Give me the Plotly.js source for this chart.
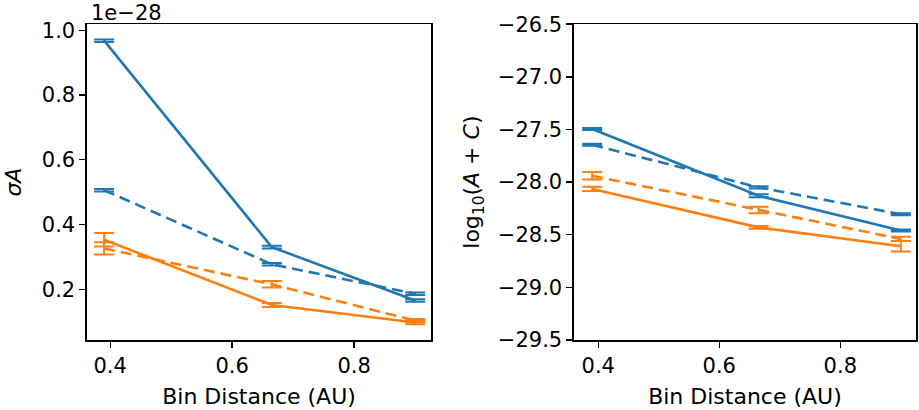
<!DOCTYPE html>
<html>
<head>
<meta charset="utf-8">
<script src="https://cdn.plot.ly/plotly-3.0.1.min.js"></script>
<style>
  html, body { margin: 0; padding: 0; background: #fff; }
  #chart { width: 919px; height: 410px; }
</style>
</head>
<body>
<div id="chart"></div>
<script>
// bin distances (AU)
const binDist = [0.39, 0.665, 0.9]

// left panel: sigma A (units of 1e-28)
const sigmaBlueSolid = [0.968, 0.330, 0.165]
const sigmaBlueSolidErr = [0.004, 0.004, 0.004]
const sigmaBlueDash = [0.506, 0.277, 0.186]
const sigmaBlueDashErr = [0.004, 0.004, 0.004]
const sigmaOrangeSolid = [0.353, 0.151, 0.097]
const sigmaOrangeSolidErr = [0.021, 0.006, 0.005]
const sigmaOrangeDash = [0.326, 0.215, 0.103]
const sigmaOrangeDashErr = [0.019, 0.010, 0.005]

// right panel: log10(A + C)
const logBlueSolid = [-27.495, -28.13, -28.46]
const logBlueSolidErr = [0.01, 0.015, 0.01]
const logBlueDash = [-27.645, -28.05, -28.305]
const logBlueDashErr = [0.01, 0.01, 0.01]
const logOrangeSolid = [-28.065, -28.43, -28.61]
const logOrangeSolidErr = [0.02, 0.012, 0.05]
const logOrangeDash = [-27.94, -28.265, -28.54]
const logOrangeDashErr = [0.035, 0.03, 0.02]

const BLUE = '#1f77b4'
const ORANGE = '#ff7f0e'

function trace(y, err, color, dash, xa, ya) {
    return {
        x: binDist,
        y,
        xaxis: xa,
        yaxis: ya,
        mode: 'lines',
        line: { color, width: 2.6, dash },
        error_y: { type: 'data', array: err, visible: true, color, thickness: 2, width: 10 },
        showlegend: false,
        hoverinfo: 'x+y'
    }
}

// matplotlib style dashes
const DASHED = '11px,6px'

const data = [
    trace(sigmaBlueSolid, sigmaBlueSolidErr, BLUE, 'solid', 'x', 'y'),
    trace(sigmaBlueDash, sigmaBlueDashErr, BLUE, DASHED, 'x', 'y'),
    trace(sigmaOrangeSolid, sigmaOrangeSolidErr, ORANGE, 'solid', 'x', 'y'),
    trace(sigmaOrangeDash, sigmaOrangeDashErr, ORANGE, DASHED, 'x', 'y'),
    trace(logBlueSolid, logBlueSolidErr, BLUE, 'solid', 'x2', 'y2'),
    trace(logBlueDash, logBlueDashErr, BLUE, DASHED, 'x2', 'y2'),
    trace(logOrangeSolid, logOrangeSolidErr, ORANGE, 'solid', 'x2', 'y2'),
    trace(logOrangeDash, logOrangeDashErr, ORANGE, DASHED, 'x2', 'y2')
]

// shared axis look (matplotlib-ish box)
const axisBase = {
    showgrid: false,
    zeroline: false,
    showline: true,
    mirror: true,
    linecolor: '#000',
    linewidth: 1.6,
    ticks: 'outside',
    ticklen: 6,
    tickwidth: 1.4,
    tickcolor: '#000',
    tickfont: { size: 21, color: '#000' }
}

const titleFont = { size: 22, color: '#000' }

const layout = {
    width: 919,
    height: 410,
    font: { family: 'DejaVu Sans, sans-serif', color: '#000' },
    margin: { l: 0, r: 0, t: 0, b: 0 },
    paper_bgcolor: '#fff',
    plot_bgcolor: '#fff',
    showlegend: false,
    xaxis: {
        ...axisBase,
        domain: [0.0947, 0.469],
        range: [0.362, 0.926],
        tickvals: [0.4, 0.6, 0.8],
        tickformat: '.1f',
        title: { text: 'Bin Distance (AU)', font: titleFont, standoff: 12 }
    },
    yaxis: {
        ...axisBase,
        anchor: 'x',
        domain: [0.1707, 0.941],
        range: [0.043, 1.019],
        tickvals: [0.2, 0.4, 0.6, 0.8, 1.0],
        tickformat: '.1f',
        title: { text: '<i>σA</i>', font: titleFont, standoff: 14 }
    },
    xaxis2: {
        ...axisBase,
        anchor: 'y2',
        domain: [0.6246, 0.9967],
        range: [0.36, 0.925],
        tickvals: [0.4, 0.6, 0.8],
        tickformat: '.1f',
        title: { text: 'Bin Distance (AU)', font: titleFont, standoff: 12 }
    },
    yaxis2: {
        ...axisBase,
        anchor: 'x2',
        domain: [0.1707, 0.941],
        range: [-29.5, -26.5],
        dtick: 0.5,
        tickformat: '.1f',
        title: { text: 'log<sub>10</sub>(<i>A</i> + <i>C</i>)', font: titleFont, standoff: 12 }
    },
    annotations: [
        {
            text: '1e\u221228',
            xref: 'paper', yref: 'paper',
            x: 0.097, y: 1,
            xanchor: 'left', yanchor: 'top',
            yshift: 1,
            showarrow: false,
            font: { size: 21, color: '#000' }
        }
    ]
}

Plotly.newPlot('chart', data, layout, { staticPlot: true })
</script>
</body>
</html>
